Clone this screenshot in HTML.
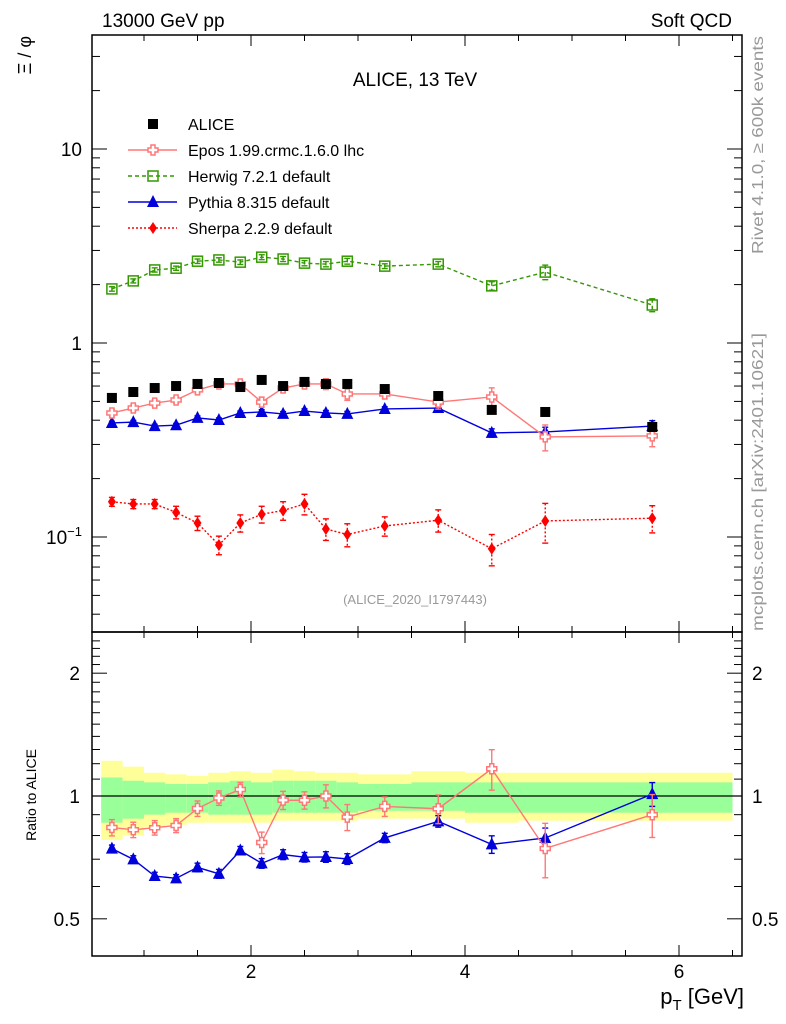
<!DOCTYPE html>
<html><head><meta charset="utf-8">
<style>
html,body{margin:0;padding:0;background:#fff;}
svg{display:block;font-family:"Liberation Sans",sans-serif;}
</style></head>
<body>
<svg id="chart" width="786" height="1024" viewBox="0 0 786 1024">
<g id="bands"></g>
<g id="axes"></g>
<g id="series"></g>
<text x="102" y="27" font-size="19">13000 GeV pp</text>
<text x="732" y="27" font-size="19" text-anchor="end">Soft QCD</text>
<text x="415" y="86" font-size="19" text-anchor="middle">ALICE, 13 TeV</text>
<text x="415" y="604" font-size="13" fill="#999" text-anchor="middle">(ALICE_2020_I1797443)</text>
<text transform="translate(31,36) rotate(-90)" font-size="18" text-anchor="end">Ξ / φ</text>
<text transform="translate(36,795) rotate(-90)" font-size="14" text-anchor="middle">Ratio to ALICE</text>
<text x="744" y="1004" font-size="22" text-anchor="end">p<tspan font-size="15" dy="6">T</tspan><tspan dy="-6"> [GeV]</tspan></text>
<text transform="translate(763,145) rotate(-90)" font-size="16" fill="#999" text-anchor="middle" textLength="218" lengthAdjust="spacingAndGlyphs">Rivet 4.1.0, ≥ 600k events</text>
<text transform="translate(763,482) rotate(-90)" font-size="16" fill="#999" text-anchor="middle" textLength="298" lengthAdjust="spacingAndGlyphs">mcplots.cern.ch [arXiv:2401.10621]</text>
<g id="legend"></g>
</svg>
<script>
const xs = [0.7,0.9,1.1,1.3,1.5,1.7,1.9,2.1,2.3,2.5,2.7,2.9,3.25,3.75,4.25,4.75,5.75];
const binEdges = [0.6,0.8,1.0,1.2,1.4,1.6,1.8,2.0,2.2,2.4,2.6,2.8,3.0,3.5,4.0,4.5,5.0,6.5];
const alice = [0.521,0.559,0.586,0.600,0.615,0.622,0.593,0.645,0.600,0.630,0.615,0.615,0.579,0.533,0.452,0.441,0.369];
const epos = [0.436,0.462,0.490,0.508,0.573,0.615,0.615,0.496,0.586,0.615,0.615,0.546,0.546,0.496,0.527,0.328,0.332];
const eposErr = [0.02,0.02,0.02,0.02,0.025,0.025,0.025,0.03,0.03,0.03,0.04,0.04,0.03,0.04,0.06,0.05,0.04];
const herwig = [1.90,2.09,2.38,2.43,2.64,2.68,2.61,2.77,2.71,2.58,2.55,2.64,2.49,2.55,1.97,2.32,1.57];
const herwigErr = [0.05,0.05,0.06,0.06,0.07,0.07,0.07,0.08,0.08,0.08,0.08,0.09,0.07,0.08,0.1,0.2,0.12];
const pythia = [0.387,0.391,0.373,0.377,0.411,0.401,0.436,0.441,0.431,0.446,0.436,0.431,0.457,0.462,0.344,0.348,0.373];
const pythiaErr = [0.008,0.008,0.008,0.008,0.01,0.01,0.01,0.012,0.012,0.012,0.013,0.013,0.012,0.015,0.017,0.02,0.025];
const sherpa = [0.152,0.148,0.148,0.134,0.118,0.091,0.118,0.131,0.137,0.148,0.110,0.103,0.114,0.122,0.087,0.121,0.125];
const sherpaErr = [0.008,0.008,0.008,0.01,0.01,0.01,0.012,0.013,0.015,0.018,0.014,0.014,0.013,0.016,0.016,0.028,0.02];
const yellowHi = [1.22,1.18,1.14,1.13,1.12,1.14,1.15,1.14,1.16,1.15,1.14,1.14,1.13,1.15,1.14,1.14,1.14];
const yellowLo = [0.78,0.80,0.84,0.85,0.86,0.86,0.86,0.86,0.87,0.87,0.87,0.87,0.88,0.88,0.86,0.87,0.87];
const greenHi = [1.11,1.09,1.08,1.07,1.07,1.08,1.09,1.08,1.09,1.09,1.09,1.08,1.07,1.08,1.08,1.08,1.08];
const greenLo = [0.86,0.88,0.90,0.91,0.91,0.90,0.90,0.90,0.91,0.91,0.91,0.91,0.92,0.92,0.91,0.91,0.91];
const xTicks = [2,4,6];
const ratioTicks = [0.5,1,2];

const NS="http://www.w3.org/2000/svg";
const L=92,R=742,T=35,MB=632,RB=956;
const X=v=>251+(v-2)*107;
const Y=v=>343-Math.log10(v)*194;
const YR=v=>796-Math.log10(v)*408;
function mk(tag,attrs,parent){const e=document.createElementNS(NS,tag);for(const k in attrs)e.setAttribute(k,attrs[k]);parent.appendChild(e);return e;}
const ax=document.getElementById('axes'),bands=document.getElementById('bands'),ser=document.getElementById('series'),leg=document.getElementById('legend');

for(let i=0;i<xs.length;i++){
  const x0=X(binEdges[i]),x1=X(binEdges[i+1]);
  const y=mk('rect',{x:x0,y:YR(yellowHi[i]),width:x1-x0,height:YR(yellowLo[i])-YR(yellowHi[i]),fill:'#ffff99'},bands);
  
  
  const g=mk('rect',{x:x0,y:YR(greenHi[i]),width:x1-x0,height:YR(greenLo[i])-YR(greenHi[i]),fill:'#99ff99'},bands);
  
  
}
mk('line',{x1:L,x2:R,y1:YR(1),y2:YR(1),stroke:'#000','stroke-width':1.3},bands);

mk('rect',{x:L,y:T,width:R-L,height:MB-T,fill:'none',stroke:'#000','stroke-width':1.5},ax);
mk('rect',{x:L,y:MB,width:R-L,height:RB-MB,fill:'none',stroke:'#000','stroke-width':1.5},ax);
for(let d=-2;d<=1;d++)for(let m=1;m<=9;m++){
  const v=m*Math.pow(10,d),y=Y(v);if(y<T||y>MB)continue;
  const len=m===1?15:8;
  mk('line',{x1:L,x2:L+len,y1:y,y2:y,stroke:'#000'},ax);
  mk('line',{x1:R,x2:R-len,y1:y,y2:y,stroke:'#000'},ax);
}
const t10=mk('text',{x:82,y:Y(10)+7,'font-size':19,'text-anchor':'end'},ax);t10.textContent='10';
const t1=mk('text',{x:82,y:Y(1)+7,'font-size':19,'text-anchor':'end'},ax);t1.textContent='1';
const tm=mk('text',{x:82,y:Y(0.1)+7,'font-size':19,'text-anchor':'end'},ax);tm.innerHTML='10<tspan font-size="13" dy="-8">−1</tspan>';
for(let v=0.4;v<=2.5;v+=0.1){const y=YR(v);if(y<MB||y>RB)continue;
  const maj=[0.5,1,2].some(t=>Math.abs(t-v)<1e-6);const len=maj?15:8;
  mk('line',{x1:L,x2:L+len,y1:y,y2:y,stroke:'#000'},ax);mk('line',{x1:R,x2:R-len,y1:y,y2:y,stroke:'#000'},ax);}
ratioTicks.forEach(v=>{
  const a=mk('text',{x:80,y:YR(v)+7,'font-size':19,'text-anchor':'end'},ax);a.textContent=String(v);
  const b=mk('text',{x:752,y:YR(v)+7,'font-size':19},ax);b.textContent=String(v);
});
for(let v=0.5;v<=6.5;v+=0.5){const x=X(v);if(x<L+1)continue;const maj=Math.abs(v-Math.round(v))<1e-6&&Math.round(v)%2===0;const len=maj?11:6;
  [[T,1],[MB,-1],[MB,1],[RB,-1]].forEach(([y0,s])=>mk('line',{x1:x,x2:x,y1:y0,y2:y0+s*len,stroke:'#000'},ax));}
xTicks.forEach(v=>{const t=mk('text',{x:X(v),y:978,'font-size':19,'text-anchor':'middle'},ax);t.textContent=String(v);});

function marker(type,x,y,color,p){
  if(type==='sq')return mk('rect',{x:x-5,y:y-5,width:10,height:10,fill:'#000'},p);
  if(type==='cross')return mk('path',{d:`M${x-2} ${y-5}h4v3h3v4h-3v3h-4v-3h-3v-4h3z`,fill:'#fff',stroke:color,'stroke-width':1.5},p);
  if(type==='osq')return mk('rect',{x:x-5,y:y-5,width:10,height:10,fill:'none',stroke:color,'stroke-width':1.5},p);
  if(type==='tri')return mk('path',{d:`M${x} ${y-7}L${x+6} ${y+5}L${x-6} ${y+5}Z`,fill:color},p);
  if(type==='dia')return mk('path',{d:`M${x} ${y-6}L${x+4} ${y}L${x} ${y+6}L${x-4} ${y}Z`,fill:color},p);
}
function drawSeries(name,vals,errs,color,dash,type,Yf,ratio){
  const g=mk('g',{},ser);
  
  
  const pts=vals.map((v,i)=>[X(xs[i]),Yf(ratio?v/alice[i]:v)]);
  if(color)mk('polyline',{points:pts.map(p=>p.join(',')).join(' '),fill:'none',stroke:color,'stroke-width':1.4,'stroke-dasharray':dash||'none'},g);
  vals.forEach((v,i)=>{
    if(errs){const c=ratio?v/alice[i]:v,e=ratio?errs[i]/alice[i]:errs[i];
      const y1=Yf(c+e),y2=Yf(Math.max(c-e,1e-3)),x=pts[i][0];
      mk('line',{x1:x,x2:x,y1:y1,y2:y2,stroke:color,'stroke-width':1.4,'stroke-dasharray':dash||'none'},g);
      mk('line',{x1:x-3,x2:x+3,y1:y1,y2:y1,stroke:color,'stroke-width':1.4},g);
      mk('line',{x1:x-3,x2:x+3,y1:y2,y2:y2,stroke:color,'stroke-width':1.4},g);}
    const m=marker(type,pts[i][0],pts[i][1],color,g);
    
    
  });
}
drawSeries('herwig-series',herwig,herwigErr,'#339900','4,3','osq',Y,false);
drawSeries('sherpa-series',sherpa,sherpaErr,'#ff0000','2,2','dia',Y,false);
drawSeries('pythia-series',pythia,pythiaErr,'#0000dd',null,'tri',Y,false);
drawSeries('epos-series',epos,eposErr,'#ff7777',null,'cross',Y,false);
drawSeries('alice-series',alice,null,null,null,'sq',Y,false);
drawSeries('pythia-ratio',pythia,pythiaErr,'#0000dd',null,'tri',YR,true);
drawSeries('epos-ratio',epos,eposErr,'#ff7777',null,'cross',YR,true);

const items=[['ALICE',null,null,'sq'],['Epos 1.99.crmc.1.6.0 lhc','#ff7777',null,'cross'],['Herwig 7.2.1 default','#339900','4,3','osq'],['Pythia 8.315 default','#0000dd',null,'tri'],['Sherpa 2.2.9 default','#ff0000','2,2','dia']];
items.forEach((it,i)=>{const y=124+i*26;const g=mk('g',{},leg);
  
  
  if(it[1])mk('line',{x1:128,x2:177,y1:y,y2:y,stroke:it[1],'stroke-width':1.4,'stroke-dasharray':it[2]||'none'},g);
  marker(it[3],153,y,it[1],g);
  const t=mk('text',{x:188,y:y+6,'font-size':16},g);t.textContent=it[0];});
</script>
</body></html>
